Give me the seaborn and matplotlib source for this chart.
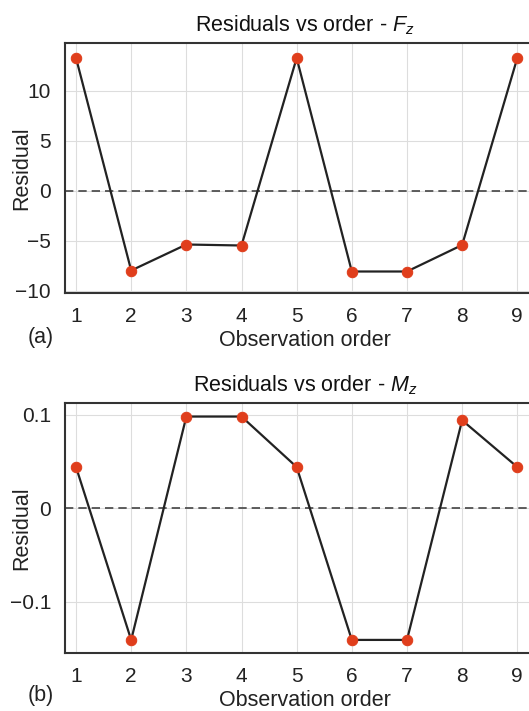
import pandas as pd
import numpy as np
import seaborn as sns
import matplotlib.pyplot as plt

# residuals
order = [1, 2, 3, 4, 5, 6, 7, 8, 9]
fz_resid = [13.3, -7.95, -5.35, -5.45, 13.3, -8.05, -8.05, -5.4, 13.3]
mz_resid = [0.044, -0.141, 0.098, 0.098, 0.044, -0.141, -0.141, 0.094, 0.044]

fz_ticks = [-10, -5, 0, 5, 10]
mz_ticks = [-0.1, 0, 0.1]

sns.set_theme(style="whitegrid")
plt.rcParams['font.family'] = ['Liberation Sans', 'DejaVu Sans']
plt.rcParams['mathtext.fontset'] = 'custom'
plt.rcParams['mathtext.it'] = 'Liberation Sans:italic'
plt.rcParams['mathtext.rm'] = 'Liberation Sans'

fig = plt.figure(figsize=(5.29, 7.11), dpi=100)
W, H = 529, 711
ax1 = fig.add_axes([65 / W, 1 - 293 / H, 1.03 - 65 / W, 250 / H])
ax2 = fig.add_axes([65 / W, 1 - 653 / H, 1.03 - 65 / W, 250 / H])

df_f = pd.DataFrame({'order': order, 'resid': fz_resid})
df_m = pd.DataFrame({'order': order, 'resid': mz_resid})

panels = [
    (ax1, df_f, fz_ticks, (-10.2, 14.8), r'Residuals vs order - $\mathit{F_z}$', '(a)'),
    (ax2, df_m, mz_ticks, (-0.155, 0.1125), r'Residuals vs order - $\mathit{M_z}$', '(b)'),
]

for ax, df, yt, ylim, title, tag in panels:
    ax.axhline(0, color='#444444', ls='--', lw=1.2, dashes=(5, 3), zorder=1)
    sns.lineplot(data=df, x='order', y='resid', ax=ax, color='#222222', lw=1.6,
                 marker='o', markersize=7.5, markerfacecolor='#e03e1c',
                 markeredgecolor='#e03e1c', zorder=3)
    ax.set_xlim(0.8, 9.5)
    ax.set_ylim(*ylim)
    ax.set_xticks(order)
    ax.set_yticks(yt)
    if tag == '(b)':
        ax.set_yticklabels(['\u22120.1', '0', '0.1'])
    ax.tick_params(labelsize=15, pad=4, colors='#222222')
    ax.grid(color='#dddddd', lw=0.8)
    for s in ax.spines.values():
        s.set_color('#333333')
        s.set_linewidth(1.5)
    ax.set_title(title, fontsize=15.5, color='#111111', pad=8)
    ax.set_xlabel('Observation order', fontsize=15.5, color='#222222', labelpad=3)
    ax.set_ylabel('Residual', fontsize=15.5, color='#222222')
    ax.yaxis.set_label_coords(-0.068, 0.5)

fig.text(28 / W, 1 - 338 / H, '(a)', fontsize=15.5, color='#222222', va='center')
fig.text(28 / W, 1 - 695 / H, '(b)', fontsize=15.5, color='#222222', va='center')

fig.savefig('out.png', dpi=100)
